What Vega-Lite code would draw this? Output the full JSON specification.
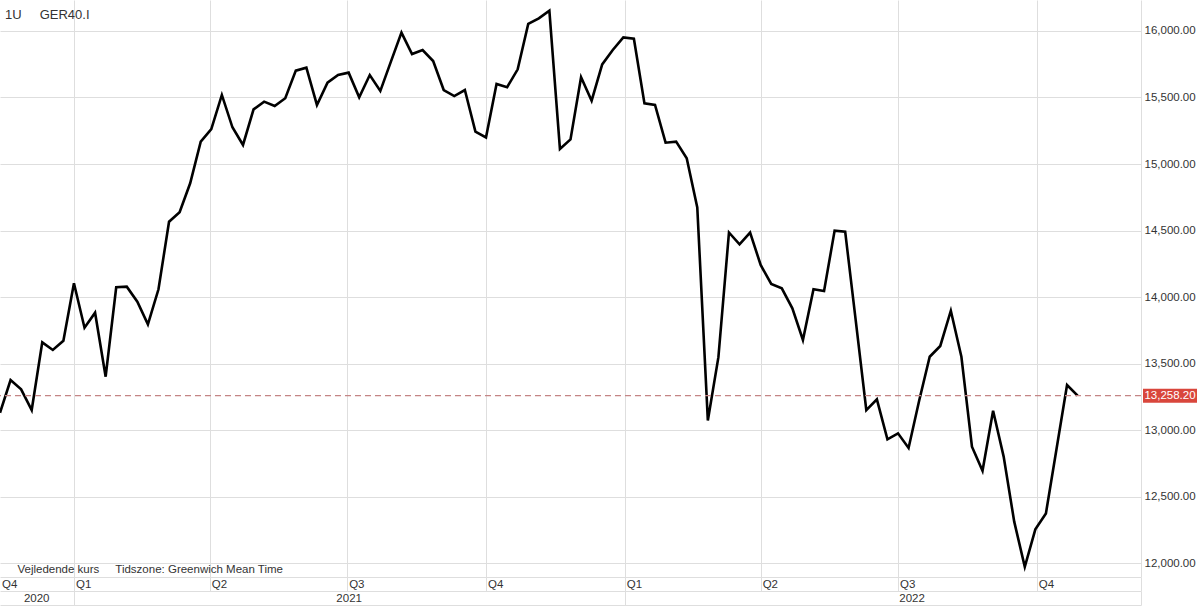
{
 "$schema": "https://vega.github.io/schema/vega-lite/v6.json",
 "width": 1141,
 "height": 577,
 "autosize": {"type": "none"},
 "padding": {"left": 0, "top": 0, "right": 59, "bottom": 29},
 "background": "white",
 "config": {"font": "Liberation Sans", "view": {"stroke": null}},
 "title": {"text": "1U\u00a0\u00a0\u00a0\u00a0\u00a0GER40.I", "anchor": "start", "frame": "group", "orient": "top", "offset": -28, "baseline": "middle", "fontSize": 13, "fontWeight": "normal", "color": "#333333", "dx": 5},
 "datasets": {
  "prices": [
   {"date": "2020-11-13", "value": 13130},
   {"date": "2020-11-20", "value": 13376},
   {"date": "2020-11-27", "value": 13306},
   {"date": "2020-12-04", "value": 13150},
   {"date": "2020-12-11", "value": 13659},
   {"date": "2020-12-18", "value": 13602},
   {"date": "2020-12-25", "value": 13671},
   {"date": "2021-01-01", "value": 14103},
   {"date": "2021-01-08", "value": 13769},
   {"date": "2021-01-15", "value": 13882},
   {"date": "2021-01-22", "value": 13401},
   {"date": "2021-01-29", "value": 14073},
   {"date": "2021-02-05", "value": 14078},
   {"date": "2021-02-12", "value": 13965},
   {"date": "2021-02-19", "value": 13795},
   {"date": "2021-02-26", "value": 14058},
   {"date": "2021-03-05", "value": 14566},
   {"date": "2021-03-12", "value": 14637},
   {"date": "2021-03-19", "value": 14855},
   {"date": "2021-03-26", "value": 15168},
   {"date": "2021-04-02", "value": 15262},
   {"date": "2021-04-09", "value": 15519},
   {"date": "2021-04-16", "value": 15276},
   {"date": "2021-04-23", "value": 15143},
   {"date": "2021-04-30", "value": 15411},
   {"date": "2021-05-07", "value": 15469},
   {"date": "2021-05-14", "value": 15436},
   {"date": "2021-05-21", "value": 15494},
   {"date": "2021-05-28", "value": 15702},
   {"date": "2021-06-04", "value": 15724},
   {"date": "2021-06-11", "value": 15444},
   {"date": "2021-06-18", "value": 15612},
   {"date": "2021-06-25", "value": 15669},
   {"date": "2021-07-02", "value": 15687},
   {"date": "2021-07-09", "value": 15501},
   {"date": "2021-07-16", "value": 15669},
   {"date": "2021-07-23", "value": 15549},
   {"date": "2021-07-30", "value": 15770},
   {"date": "2021-08-06", "value": 15988},
   {"date": "2021-08-13", "value": 15827},
   {"date": "2021-08-20", "value": 15857},
   {"date": "2021-08-27", "value": 15774},
   {"date": "2021-09-03", "value": 15556},
   {"date": "2021-09-10", "value": 15511},
   {"date": "2021-09-17", "value": 15556},
   {"date": "2021-09-24", "value": 15243},
   {"date": "2021-10-01", "value": 15200},
   {"date": "2021-10-08", "value": 15602},
   {"date": "2021-10-15", "value": 15577},
   {"date": "2021-10-22", "value": 15712},
   {"date": "2021-10-29", "value": 16053},
   {"date": "2021-11-05", "value": 16095},
   {"date": "2021-11-12", "value": 16153},
   {"date": "2021-11-19", "value": 15113},
   {"date": "2021-11-26", "value": 15185},
   {"date": "2021-12-03", "value": 15652},
   {"date": "2021-12-10", "value": 15476},
   {"date": "2021-12-17", "value": 15749},
   {"date": "2021-12-24", "value": 15857},
   {"date": "2021-12-31", "value": 15952},
   {"date": "2022-01-07", "value": 15942},
   {"date": "2022-01-14", "value": 15456},
   {"date": "2022-01-21", "value": 15444},
   {"date": "2022-01-28", "value": 15160},
   {"date": "2022-02-04", "value": 15168},
   {"date": "2022-02-11", "value": 15043},
   {"date": "2022-02-18", "value": 14674},
   {"date": "2022-02-25", "value": 13072},
   {"date": "2022-03-04", "value": 13548},
   {"date": "2022-03-11", "value": 14485},
   {"date": "2022-03-18", "value": 14396},
   {"date": "2022-03-25", "value": 14484},
   {"date": "2022-04-01", "value": 14241},
   {"date": "2022-04-08", "value": 14098},
   {"date": "2022-04-15", "value": 14065},
   {"date": "2022-04-22", "value": 13915},
   {"date": "2022-04-29", "value": 13677},
   {"date": "2022-05-06", "value": 14058},
   {"date": "2022-05-13", "value": 14045},
   {"date": "2022-05-20", "value": 14499},
   {"date": "2022-05-27", "value": 14491},
   {"date": "2022-06-03", "value": 13822},
   {"date": "2022-06-10", "value": 13150},
   {"date": "2022-06-17", "value": 13231},
   {"date": "2022-06-24", "value": 12930},
   {"date": "2022-07-01", "value": 12975},
   {"date": "2022-07-08", "value": 12865},
   {"date": "2022-07-15", "value": 13220},
   {"date": "2022-07-22", "value": 13551},
   {"date": "2022-07-29", "value": 13632},
   {"date": "2022-08-05", "value": 13897},
   {"date": "2022-08-12", "value": 13551},
   {"date": "2022-08-19", "value": 12875},
   {"date": "2022-08-26", "value": 12694},
   {"date": "2022-09-02", "value": 13145},
   {"date": "2022-09-09", "value": 12800},
   {"date": "2022-09-16", "value": 12311},
   {"date": "2022-09-23", "value": 11972},
   {"date": "2022-09-30", "value": 12253},
   {"date": "2022-10-07", "value": 12373},
   {"date": "2022-10-14", "value": 12855},
   {"date": "2022-10-21", "value": 13338},
   {"date": "2022-10-28", "value": 13258.2}
  ],
  "last": [{"last": 13258.2}]
 },
 "layer": [
  {
   "data": {"name": "prices"},
   "mark": {"type": "line", "color": "#000000", "strokeWidth": 2.6, "strokeJoin": "miter"},
   "encoding": {
    "x": {
     "field": "date", "type": "temporal",
     "scale": {"type": "utc", "domain": [{"year": 2020, "month": 11, "date": 13, "utc": true}, {"year": 2022, "month": 12, "date": 9, "utc": true}]},
     "axis": {
      "orient": "bottom", "offset": 0,
      "values": [
       {"year": 2020, "month": 11, "date": 13, "utc": true},
       {"year": 2021, "month": 1, "date": 1, "utc": true},
       {"year": 2021, "month": 4, "date": 1, "utc": true},
       {"year": 2021, "month": 7, "date": 1, "utc": true},
       {"year": 2021, "month": 10, "date": 1, "utc": true},
       {"year": 2022, "month": 1, "date": 1, "utc": true},
       {"year": 2022, "month": 4, "date": 1, "utc": true},
       {"year": 2022, "month": 7, "date": 1, "utc": true},
       {"year": 2022, "month": 10, "date": 1, "utc": true},
       {"year": 2022, "month": 12, "date": 9, "utc": true}
      ],
      "labelExpr": "utcmonth(datum.value) == 11 ? '' : 'Q' + (floor(utcmonth(datum.value) / 3) + 1)",
      "grid": true,
      "gridColor": {"condition": {"test": "utcdate(datum.value) != 1", "value": "transparent"}, "value": "#dedede"},
      "gridWidth": 1,
      "domain": true, "domainColor": "#dedede",
      "ticks": true, "tickSize": 14,
      "tickColor": {"condition": {"test": "utcmonth(datum.value) == 10", "value": "transparent"}, "value": "#dedede"},
      "labelAlign": "left", "labelBaseline": "middle", "labelPadding": -7, "labelOffset": 1.5,
      "labelFlush": false, "labelOverlap": false, "labelFontSize": 11.5, "labelColor": "#333333",
      "title": "Vejledende kurs\u00a0\u00a0\u00a0\u00a0\u00a0Tidszone: Greenwich Mean Time",
      "titleX": 17, "titleY": -8, "titleAlign": "left", "titleBaseline": "middle",
      "titleFontSize": 11.5, "titleFontWeight": "normal", "titleColor": "#333333"
     }
    },
    "y": {
     "field": "value", "type": "quantitative",
     "scale": {"domain": [11895, 16233], "nice": false, "zero": false},
     "axis": {
      "orient": "right",
      "values": [12000, 12500, 13000, 13500, 14000, 14500, 15000, 15500, 16000],
      "format": ",.2f", "grid": true, "gridColor": "#dedede",
      "domain": true, "domainColor": "#dedede", "ticks": false,
      "labelPadding": 3, "labelFontSize": 11.5, "labelColor": "#333333", "labelBaseline": "middle",
      "title": null
     }
    }
   }
  },
  {
   "data": {"name": "prices"},
   "mark": {"type": "point", "opacity": 0},
   "encoding": {
    "x": {
     "field": "date", "type": "temporal",
     "scale": {"type": "utc", "domain": [{"year": 2020, "month": 11, "date": 13, "utc": true}, {"year": 2022, "month": 12, "date": 9, "utc": true}]},
     "axis": {
      "orient": "bottom", "offset": 14,
      "values": [
       {"year": 2020, "month": 12, "date": 7, "utc": true},
       {"year": 2021, "month": 1, "date": 1, "utc": true},
       {"year": 2021, "month": 7, "date": 2, "utc": true},
       {"year": 2022, "month": 1, "date": 1, "utc": true},
       {"year": 2022, "month": 7, "date": 10, "utc": true},
       {"year": 2022, "month": 12, "date": 9, "utc": true}
      ],
      "labelExpr": "(utcdate(datum.value) == 1 || utcdate(datum.value) == 9) ? '' : utcFormat(datum.value, '%Y')",
      "grid": false,
      "domain": true, "domainColor": "#dedede",
      "ticks": true, "tickSize": 14,
      "tickColor": {"condition": {"test": "utcdate(datum.value) == 1 || utcdate(datum.value) == 9", "value": "#dedede"}, "value": "transparent"},
      "labelAlign": "center", "labelBaseline": "middle", "labelPadding": -7,
      "labelFlush": false, "labelOverlap": false, "labelFontSize": 11.5, "labelColor": "#333333",
      "title": null
     }
    },
    "y": {"field": "value", "type": "quantitative", "scale": {"domain": [11895, 16233], "nice": false, "zero": false}, "axis": null}
   }
  },
  {
   "data": {"name": "prices"},
   "mark": {"type": "point", "opacity": 0},
   "encoding": {
    "x": {
     "field": "date", "type": "temporal",
     "scale": {"type": "utc", "domain": [{"year": 2020, "month": 11, "date": 13, "utc": true}, {"year": 2022, "month": 12, "date": 9, "utc": true}]},
     "axis": {"orient": "bottom", "offset": 28, "domain": true, "domainColor": "#dedede", "ticks": false, "labels": false, "grid": false, "title": null}
    },
    "y": {"field": "value", "type": "quantitative", "scale": {"domain": [11895, 16233], "nice": false, "zero": false}, "axis": null}
   }
  },
  {
   "data": {"name": "last"},
   "mark": {"type": "rule", "color": "#c48585", "strokeDash": [6, 4], "strokeWidth": 1.3},
   "encoding": {
    "y": {"field": "last", "type": "quantitative", "scale": {"domain": [11895, 16233], "nice": false, "zero": false}, "axis": null}
   }
  },
  {
   "data": {"name": "last"},
   "mark": {"type": "tick", "orient": "horizontal", "size": 54, "thickness": 14, "color": "#d9463c", "opacity": 1, "xOffset": 29},
   "encoding": {
    "x": {"value": "width"},
    "y": {"field": "last", "type": "quantitative", "scale": {"domain": [11895, 16233], "nice": false, "zero": false}, "axis": null}
   }
  },
  {
   "data": {"name": "last"},
   "mark": {"type": "text", "color": "#ffffff", "fontSize": 11.5, "align": "center", "baseline": "middle", "dx": 29},
   "encoding": {
    "x": {"value": "width"},
    "y": {"field": "last", "type": "quantitative", "scale": {"domain": [11895, 16233], "nice": false, "zero": false}, "axis": null},
    "text": {"field": "last", "type": "quantitative", "format": ",.2f"}
   }
  }
 ],
 "resolve": {"axis": {"x": "independent", "y": "independent"}}
}
